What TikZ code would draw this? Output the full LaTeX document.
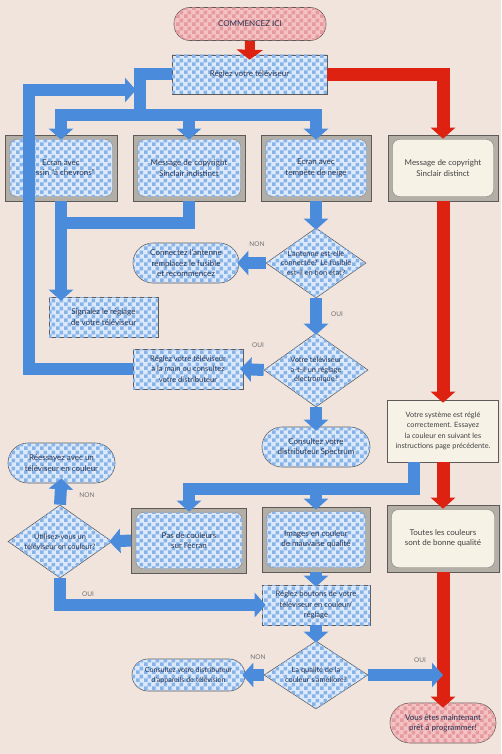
\documentclass[tikz,border=0pt]{standalone}
\usepackage{fontspec}
\setmainfont{Lato}
\usetikzlibrary{arrows.meta,shapes.geometric,patterns.meta,calc}
\definecolor{bgc}{HTML}{F1E4DD}
\definecolor{pblue}{HTML}{4A8CDB}
\definecolor{pred}{HTML}{DD2211}
\definecolor{boxb}{HTML}{DCE9F8}
\definecolor{patb}{HTML}{86B3E9}
\definecolor{pinkb}{HTML}{F4C2C2}
\definecolor{patp}{HTML}{E49A9E}
\definecolor{cream}{HTML}{F6F2E6}
\definecolor{framec}{HTML}{B3AEA6}
\definecolor{edgec}{HTML}{5E5A58}
\definecolor{txtc}{HTML}{283655}
\definecolor{lblc}{HTML}{707070}
\tikzdeclarepattern{
  name=weave,
  type=uncolored,
  bounding box={(0pt,0pt) and (8pt,8pt)},
  tile size={(8pt,8pt)},
  code={\fill (0pt,0pt) rectangle (4pt,4pt); \fill (4pt,4pt) rectangle (8pt,8pt);}
}
\tikzset{
  base/.style={inner sep=0pt, align=center, font=\fontsize{8}{10.3}\selectfont, text=txtc},
  dtext/.style={font=\fontsize{7.4}{9.8}\selectfont},
  bluefill/.style={fill=boxb, postaction={pattern=weave, pattern color=patb}},
  bbox/.style={base, rectangle, draw=edgec, line width=0.6pt, bluefill},
  bpill/.style={base, rectangle, draw=edgec, line width=0.6pt, bluefill},
  pinkpill/.style={base, rectangle, draw=edgec, line width=0.6pt, fill=pinkb, postaction={pattern=weave, pattern color=patp}},
  cbox/.style={base, rectangle, draw=edgec, line width=0.6pt, fill=cream, text=black!75},
  dia/.style={diamond, draw=edgec, line width=0.6pt, bluefill, inner sep=0pt},
  tvframe/.style={rectangle, draw=edgec, line width=0.6pt, fill=framec, inner sep=0pt},
  tvblue/.style={base, rectangle, rounded corners=7pt, draw=edgec!80, line width=0.4pt, bluefill},
  tvcream/.style={base, rectangle, rounded corners=7pt, draw=edgec!80, line width=0.4pt, fill=cream, text=black!75},
  bpipe/.style={draw=pblue, line width=12pt, line join=miter},
  rpipe/.style={draw=pred, line width=13pt, line join=miter},
  parr/.style={-{Triangle[width=24pt,length=11pt]}},
  lbl/.style={font=\fontsize{6.5}{7}\selectfont, text=lblc, inner sep=0pt}
}
\newcommand\tvset[7]{%
  \node[tvframe, minimum width=#4pt, minimum height=#5pt] (#1) at (#2,#3) {};
  \node[#6, minimum width=#4pt-9pt, minimum height=#5pt-9pt] at (#1) {#7};
}
\begin{document}
\begin{tikzpicture}[x=1pt,y=-1pt]
\fill[bgc] (0,0) rectangle (501,754);
\useasboundingbox (0,0) rectangle (501,754);

% nodes
\node[pinkpill, minimum width=152pt, minimum height=33pt, rounded corners=16pt] (start) at (250,24) {COMMENCEZ ICI};
\node[bbox, minimum width=155pt, minimum height=39pt] (reglez) at (249.5,74.5) {Réglez votre téléviseur};

\tvset{s1}{61}{168}{112}{66}{tvblue}{Ecran avec\\dessin “à chevrons”}
\tvset{s2}{189}{168}{112}{66}{tvblue}{Message de copyright\\Sinclair indistinct}
\tvset{s3}{316}{168}{110}{66}{tvblue}{Ecran avec\\tempête de neige}
\tvset{s4}{443}{168}{110}{66}{tvcream}{Message de copyright\\Sinclair distinct}

\node[bbox, minimum width=109pt, minimum height=40pt] (signalez) at (103.5,317) {Signalez le réglage\\de votre téléviseur};

\node[dia, minimum width=100pt, minimum height=70pt] (d1) at (316,263) {};
\node[base, dtext] at (d1) {L'antenne est-elle\\connectée? Le fusible\\est-il en bon état?};
\node[bpill, minimum width=106pt, minimum height=40pt, rounded corners=20pt] (connect) at (186,263) {Connectez l'antenne\\remplacez le fusible\\et recommencez};

\node[dia, minimum width=104pt, minimum height=74pt] (d2) at (316,370) {};
\node[base, dtext] at (d2) {Votre téléviseur\\a-t-il un réglage\\électronique?};
\node[bbox, font=\fontsize{7.6}{10.3}\selectfont, minimum width=110pt, minimum height=40pt] (manual) at (188,369) {Réglez votre téléviseur\\à la main ou consultez\\votre distributeur};
\node[bpill, minimum width=108pt, minimum height=40pt, rounded corners=20pt] (spectrum) at (316,447) {Consultez votre\\distributeur Spectrum};

\node[cbox, font=\fontsize{7.3}{10.3}\selectfont, minimum width=111pt, minimum height=62pt] (system) at (443,431) {Votre système est réglé\\correctement. Essayez\\la couleur en suivant les\\instructions page précédente.};

\node[bpill, minimum width=107pt, minimum height=40pt, rounded corners=20pt] (retry) at (61.5,463) {Réessayez avec un\\téléviseur en couleur};
\node[dia, minimum width=104pt, minimum height=73pt] (d3) at (60,541.5) {};
\node[base, dtext] at (d3) {Utilisez-vous un\\téléviseur en couleur?};

\tvset{s5}{189}{540.5}{115}{65}{tvblue}{Pas de couleurs\\sur l'écran}
\tvset{s6}{316}{539.5}{108}{65}{tvblue}{Images en couleur\\de mauvaise qualité}
\tvset{s7}{443}{538.5}{112}{67}{tvcream}{Toutes les couleurs\\sont de bonne qualité}

\node[bbox, font=\fontsize{7.6}{10.3}\selectfont, minimum width=108pt, minimum height=40pt] (adjust) at (316,605) {Réglez boutons de votre\\téléviseur en couleur/\\réglage};
\node[dia, minimum width=104pt, minimum height=68pt] (d4) at (316,675) {};
\node[base, dtext] at (d4) {La qualité de la\\couleur s'améliore?};
\node[bpill, font=\fontsize{7.1}{10}\selectfont, minimum width=113pt, minimum height=32pt, rounded corners=16pt] (dealer) at (188.5,675) {Consultez votre distributeur\\d'appareils de télévision};

\node[pinkpill, minimum width=106pt, minimum height=40pt, rounded corners=20pt] (final) at (443,723) {Vous êtes maintenant\\prêt à programmer!};

% red connectors
\draw[draw=pred, line width=10pt, -{Triangle[width=26pt,length=10pt]}] (start.south) -- ([yshift=-5pt]reglez.north);
\draw[rpipe,parr] (reglez.east) -| ([yshift=-4pt]s4.north);
\draw[rpipe,parr] (s4.south) -- ([yshift=-3pt]system.north);
\draw[rpipe,parr] (system.south) -- ([yshift=-4pt]s7.north);
\draw[rpipe,parr] (s7.south) -- ([yshift=-5pt]final.north);

% blue connectors
\coordinate (jtop) at (140,115);
\draw[bpipe] (reglez.west) -| (jtop);
\draw[bpipe,parr] (jtop) -| ([yshift=-5pt]s1.north);
\draw[bpipe,parr] (jtop) -| ([yshift=-5pt]s3.north);
\draw[bpipe,parr] (s2.north |- jtop) -- ([yshift=-5pt]s2.north);
\coordinate (loopc) at (29,90);
\coordinate (loopend) at (136,90);
\draw[bpipe,parr] (manual.west) -| (loopc) -- (loopend);
\draw[bpipe,parr] (s1.south) -- ($(s1.south |- signalez.north)+(0,4)$);
\coordinate (j2) at (61,223);
\draw[bpipe] (s2.south) |- (j2);

\draw[bpipe,parr] (s3.south) -- ([yshift=-2pt]d1.north);
\draw[bpipe,parr] (d1.west) -- ([xshift=-2pt]connect.east);
\draw[bpipe,parr] (d1.south) -- ([yshift=-2pt]d2.north);
\draw[bpipe,parr] (d2.west) -- ([xshift=-3pt]manual.east);
\draw[bpipe,parr] (d2.south) -- ([yshift=-4pt]spectrum.north);

\coordinate (j1) at (414,489);
\draw[bpipe,parr] (system.south -| j1) -- (j1) -| ([yshift=-4pt]s5.north);
\draw[bpipe,parr] (s6.north |- j1) -- ([yshift=-3pt]s6.north);
\draw[bpipe,parr] (s5.west) -- ([xshift=-3pt]d3.east);
\draw[bpipe,parr] (d3.north) -- ([yshift=5pt]retry.south);
\draw[bpipe,parr] (d3.south) |- ([xshift=4pt]adjust.west);
\draw[bpipe,parr] (s6.south) -- ([yshift=-2pt]adjust.north);
\draw[bpipe,parr] (adjust.south) -- ([yshift=-2pt]d4.north);
\draw[bpipe,parr] (d4.west) -- ([xshift=-3pt]dealer.east);
\draw[bpipe,parr] (d4.east) -- (d4.east -| final.north);

% labels
\node[lbl] at (257,244) {NON};
\node[lbl] at (337,314) {OUI};
\node[lbl] at (258,345) {OUI};
\node[lbl] at (87,495) {NON};
\node[lbl] at (88,594) {OUI};
\node[lbl] at (258,657) {NON};
\node[lbl] at (420,660) {OUI};
\end{tikzpicture}
\end{document}
